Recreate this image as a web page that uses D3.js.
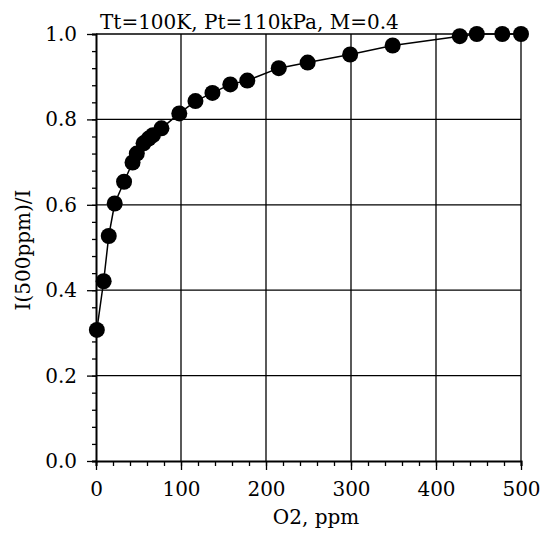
<!DOCTYPE html>
<html>
<head>
<meta charset="utf-8">
<script src="https://cdn.jsdelivr.net/npm/d3@7"></script>
<style>
  body { margin: 0; background: #fff; }
  svg text { font-family: "DejaVu Serif", serif; fill: #000; }
</style>
</head>
<body>
<svg id="chart" width="545" height="533"></svg>
<script>
var o2ppm = [1, 9, 15, 22, 33, 43, 48, 56, 62, 67, 77, 98, 117, 137, 158, 178, 215, 249, 299, 349, 428, 448, 478, 500];
var ratio = [0.307, 0.421, 0.527, 0.603, 0.654, 0.699, 0.720, 0.744, 0.755, 0.763, 0.779, 0.814, 0.843, 0.862, 0.882, 0.891, 0.920, 0.933, 0.952, 0.973, 0.995, 1.0, 1.0, 1.0];
var xTicks = [0, 100, 200, 300, 400, 500];
var yTicks = [0, 0.2, 0.4, 0.6, 0.8, 1.0];

var data = o2ppm.map((d, i) => ({x: d, y: ratio[i]}));

var svg = d3.select("#chart");
var margin = {top: 34, right: 24, bottom: 72, left: 96};
var width = 545, height = 533;
var fontSize = "20px";

var x = d3.scaleLinear().domain([0, 500]).range([margin.left, width - margin.right]);
var y = d3.scaleLinear().domain([0, 1]).range([height - margin.bottom, margin.top]);

// grid
svg.append("g")
    .selectAll("line").data(xTicks.slice(1)).enter().append("line")
      .attr("x1", d => x(d)).attr("x2", d => x(d))
      .attr("y1", y(0)).attr("y2", y(1))
      .attr("stroke", "#000").attr("stroke-width", 1.3);
svg.append("g")
    .selectAll("line").data(yTicks.slice(1)).enter().append("line")
      .attr("x1", x(0)).attr("x2", x(500))
      .attr("y1", d => y(d)).attr("y2", d => y(d))
      .attr("stroke", "#000").attr("stroke-width", 1.3);

// axes
var xAxis = g => g
  .attr("transform", `translate(0,${y(0)})`)
  .call(d3.axisBottom(x).tickValues(d3.range(0, 501, 20)).tickSize(5).tickFormat(""))
  .call(g => g.select(".domain").attr("stroke-width", 2))
  .call(g => g.append("g")
    .call(d3.axisBottom(x).tickValues(xTicks).tickSize(9).tickPadding(12))
    .call(g => g.select(".domain").remove()));

var yAxis = g => g
  .attr("transform", `translate(${x(0)},0)`)
  .call(d3.axisLeft(y).tickValues(d3.range(0, 1.001, 0.04)).tickSize(4).tickFormat(""))
  .call(g => g.select(".domain").attr("stroke-width", 2))
  .call(g => g.append("g")
    .call(d3.axisLeft(y).tickValues(yTicks).tickSize(9).tickPadding(10).tickFormat(d3.format(".1f")))
    .call(g => g.select(".domain").remove()));

svg.append("g").call(xAxis);
svg.append("g").call(yAxis);

svg.selectAll(".tick line").attr("stroke-width", 1.3);
svg.selectAll(".tick text").style("font-size", fontSize).style("font-family", "DejaVu Serif");

// curve
svg.append("path")
    .datum(data)
    .attr("fill", "none")
    .attr("stroke", "#000")
    .attr("stroke-width", 1.5)
    .attr("d", d3.line().x(d => x(d.x)).y(d => y(d.y)));

svg.append("g")
    .selectAll("circle").data(data).enter().append("circle")
      .attr("cx", d => x(d.x))
      .attr("cy", d => y(d.y))
      .attr("r", 8)
      .attr("fill", "#000");

// labels
svg.append("text")
    .attr("x", 100).attr("y", 29)
    .style("font-size", fontSize)
    .text("Tt=100K, Pt=110kPa, M=0.4");

svg.append("text")
    .attr("x", 316).attr("y", 524)
    .attr("text-anchor", "middle")
    .style("font-size", fontSize)
    .text("O2, ppm");

svg.append("text")
    .attr("transform", "translate(30,250) rotate(-90)")
    .attr("text-anchor", "middle")
    .style("font-size", fontSize)
    .text("I(500ppm)/I");
</script>
</body>
</html>
